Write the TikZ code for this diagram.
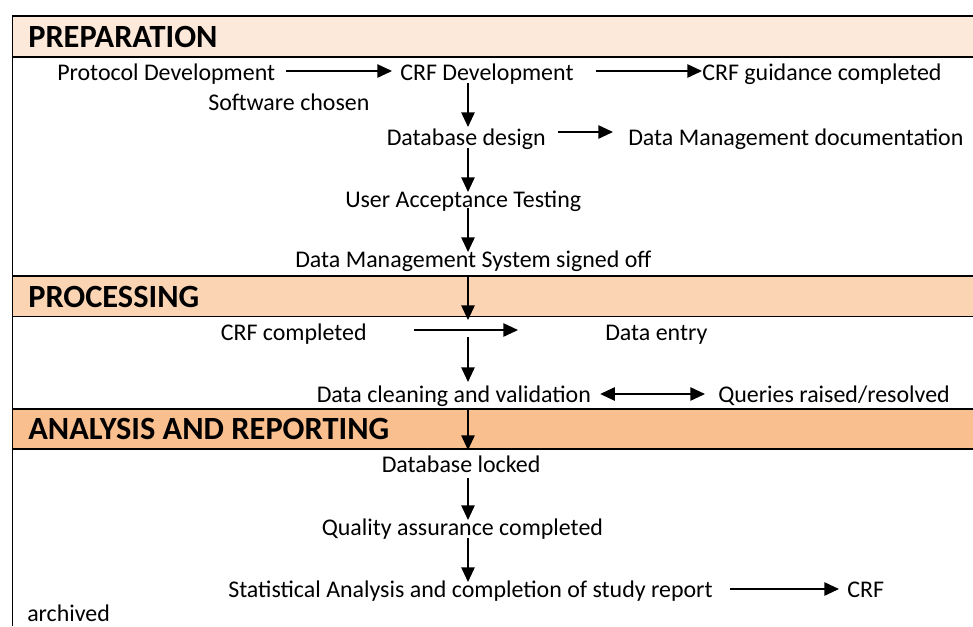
\documentclass[tikz,border=0pt]{standalone}
\usepackage{fontspec}
\setmainfont{Carlito}
\usetikzlibrary{arrows.meta,calc}
\definecolor{hdrA}{HTML}{FDE9D9}
\definecolor{hdrB}{HTML}{FBD4B4}
\definecolor{hdrC}{HTML}{FABF8F}
\begin{document}
\begin{tikzpicture}[x=0.75pt,y=-0.75pt,
  lbl/.style={inner sep=0pt, anchor=base west, font=\fontsize{17.95}{21}\selectfont},
  hdr/.style={inner sep=0pt, anchor=base west, font=\fontsize{24.3}{28}\selectfont\bfseries},
  arr/.style={line width=1.2pt, -{Triangle[length=11pt,width=10pt]}},
  darr/.style={line width=1.2pt, {Triangle[length=11pt,width=10pt]}-{Triangle[length=11pt,width=10pt]}},
  frame/.style={line width=1.2pt}]
\useasboundingbox (0,0) rectangle (973,626);
% header bands
\fill[hdrA] (12.5,16) rectangle (973,57);
\fill[hdrB] (12.5,276) rectangle (973,316.5);
\fill[hdrC] (12.5,409) rectangle (973,449);
\foreach \yy in {16,57,276,316.5,409,449} \draw[frame] (12.5,\yy) -- (973,\yy);
\draw[frame] (12.5,15.3) -- (12.5,626);
% spine and band tops
\coordinate (spine) at (468,0);
\coordinate (ptop) at (468,276);
\coordinate (atop) at (468,409);
% texts
\node[hdr] (prep) at (28,47.2) {PREPARATION};
\node[lbl] (proto) at (57,80.5) {Protocol Development};
\node[lbl] (crfdev) at (400,80.5) {CRF Development};
\node[lbl] (guid) at (702,80.5) {CRF guidance completed};
\node[lbl] (soft) at (208,110.5) {Software chosen};
\node[lbl] (dbd) at (386.5,145.5) {Database design};
\node[lbl] (dmdoc) at (628,145.5) {Data Management documentation};
\node[lbl] (uat) at (345,207) {User Acceptance Testing};
\node[lbl] (dms) at (295,267.5) {Data Management System signed off};
\node[hdr] (proc) at (28,307.2) {PROCESSING};
\node[lbl] (crfc) at (220.5,340.5) {CRF completed};
\node[lbl] (dentry) at (605,340.5) {Data entry};
\node[lbl] (dcv) at (316.5,402) {Data cleaning and validation};
\node[lbl] (qry) at (718,402) {Queries raised/resolved};
\node[hdr] (anal) at (28,439.5) {ANALYSIS AND REPORTING};
\node[lbl] (dbl) at (381.5,472.5) {Database locked};
\node[lbl] (qa) at (321.5,535.5) {Quality assurance completed};
\node[lbl] (stat) at (228,597) {Statistical Analysis and completion of study report};
\node[lbl] (crfa) at (847,597) {CRF};
\node[lbl] (arch) at (27,621.5) {archived};
% connectors
\draw[arr] ($(proto.base east)+(11,-9.5)$) -- ($(crfdev.base west)+(-8,-9.5)$);
\draw[arr] ($(crfdev.base east)+(22,-9.5)$) -- ($(guid.base west)+(0,-9.5)$);
\draw[arr] ($(crfdev.base -| spine)+(0,2.5)$) -- ($(dbd.base -| spine)+(0,-18.5)$);
\draw[arr] ($(dbd.base east)+(12,-13.5)$) -- ($(dmdoc.base west)+(-15,-13.5)$);
\draw[arr] ($(dbd.base -| spine)+(0,2.5)$) -- ($(uat.base -| spine)+(0,-15)$);
\draw[arr] ($(uat.base -| spine)+(0,1)$) -- ($(dms.base -| spine)+(0,-15.5)$);
\draw[arr] (ptop) -- ($(crfc.base -| spine)+(0,-20.5)$);
\draw[arr] ($(crfc.base east)+(47,-10.5)$) -- ($(dentry.base west)+(-87,-10.5)$);
\draw[arr] ($(crfc.base -| spine)+(0,-3.5)$) -- ($(dcv.base -| spine)+(0,-20)$);
\draw[darr] ($(dcv.base east)+(9,-8)$) -- ($(qry.base west)+(-13,-8)$);
\draw[arr] (atop) -- ($(dbl.base -| spine)+(0,-22.5)$);
\draw[arr] ($(dbl.base -| spine)+(0,5.5)$) -- ($(qa.base -| spine)+(0,-15.5)$);
\draw[arr] ($(qa.base -| spine)+(0,2.5)$) -- ($(stat.base -| spine)+(0,-15)$);
\draw[arr] ($(stat.base east)+(17,-8)$) -- ($(crfa.base west)+(-8,-8)$);
\end{tikzpicture}
\end{document}
